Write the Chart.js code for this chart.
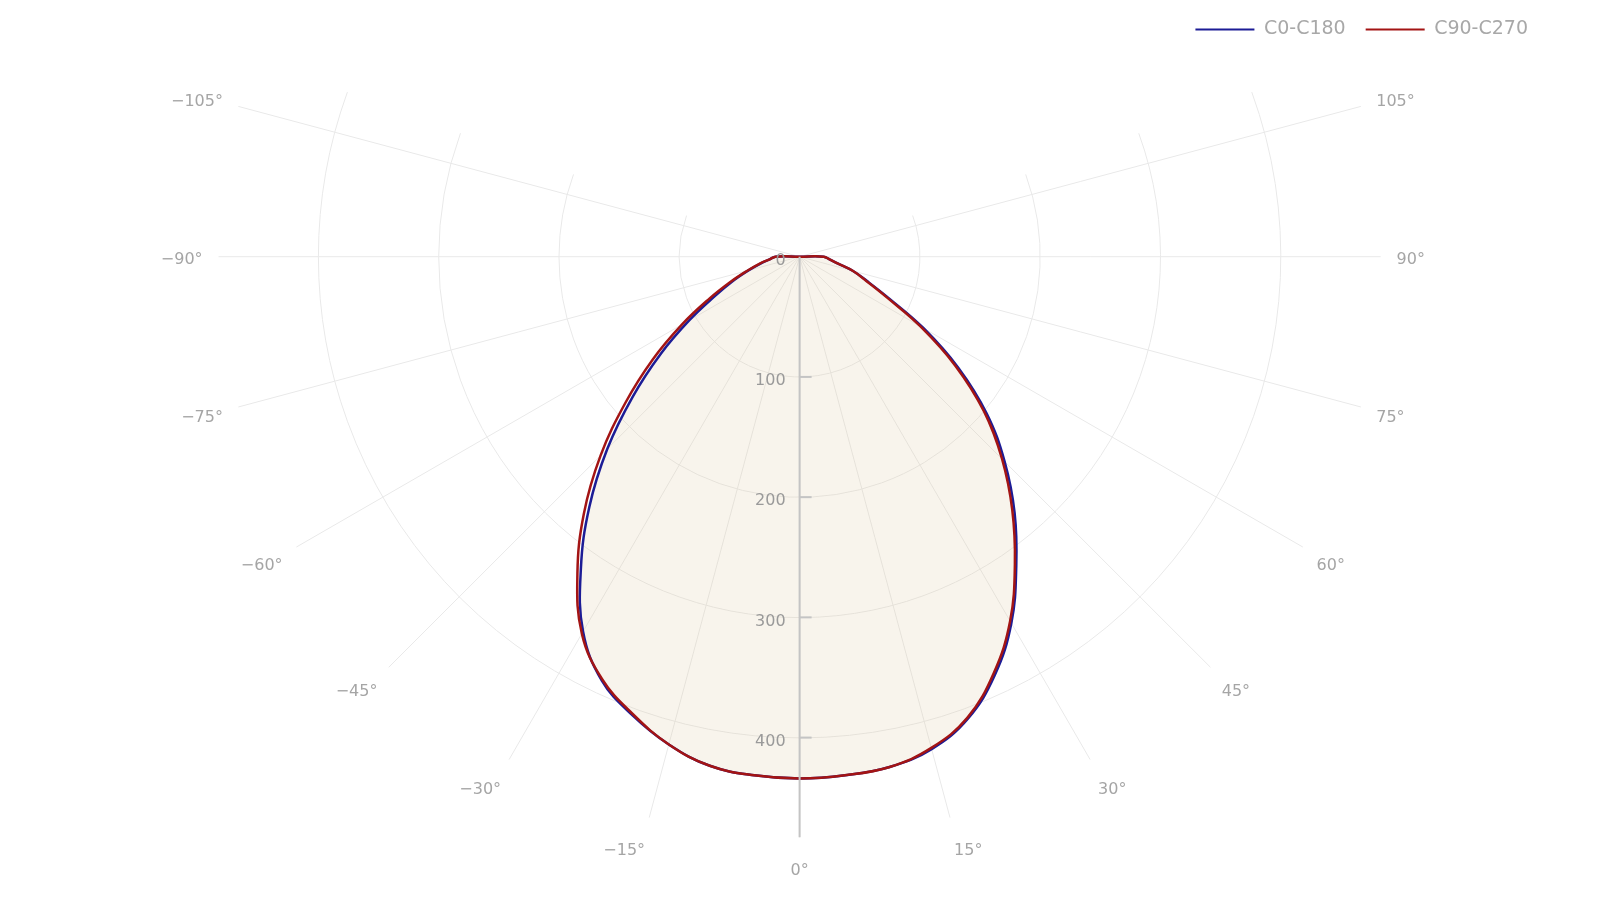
<!DOCTYPE html>
<html>
<head>
<meta charset="utf-8">
<title>Luminous intensity distribution</title>
<script src="https://cdn.jsdelivr.net/npm/chart.js@4.4.1/dist/chart.umd.min.js"></script>
<style>
  html, body { margin: 0; padding: 0; background: #fff; }
  #wrap { width: 1600px; height: 900px; }
</style>
</head>
<body>
<div id="wrap"><canvas id="polarChart" width="1600" height="900"></canvas></div>
<script>
// gamma angles in degrees, 0 = straight down, negative to the left
const angles = [-180, -90, -85, -80, -75, -70, -65, -60, -55, -50, -45, -40, -35, -30, -25, -20, -15, -10, -5,
                0, 5, 10, 15, 20, 25, 30, 35, 40, 45, 50, 55, 60, 65, 70, 75, 80, 85, 90, 180];

// intensity values (cd/klm)
const c0c180 = [0, 20, 25, 33, 44, 59, 78, 106, 141, 181, 226, 272, 317, 360, 389, 406, 420, 430, 433,
                434, 433, 431, 424, 409, 384, 352, 314, 278, 241, 203, 161, 119, 82, 60, 46, 32, 25, 20, 0];
const c90c270 = [0, 20, 25, 34, 45, 61, 83, 113, 149, 189, 234, 279, 322, 362, 388, 405, 420, 430, 433,
                 434, 433, 431, 423, 408, 382, 350, 312, 275, 238, 200, 158, 116, 80, 59, 46, 32, 25, 20, 0];

const angleTicks = [-105, -90, -75, -60, -45, -30, -15, 0, 15, 30, 45, 60, 75, 90, 105];
const radialTicks = [0, 100, 200, 300, 400];
const radialMax = 483;
const sectorHalf = 110;

// where the pole sits on the canvas and how many pixels one unit takes
const CENTER_PX = { x: 799, y: 257 };
const PX_PER_UNIT = 1.204;
const LABEL_RADIUS_PX = 597;

const FONT = '"DejaVu Sans", sans-serif';
const rad = d => d * Math.PI / 180;

function toPoints(vals) {
    return angles.map((a, i) => ({
        x: vals[i] * Math.sin(rad(a)),
        y: -vals[i] * Math.cos(rad(a))
    }));
}

function polarPx(chart, deg, r) {
    const xs = chart.scales.x, ys = chart.scales.y;
    return {
        x: xs.getPixelForValue(r * Math.sin(rad(deg))),
        y: ys.getPixelForValue(-r * Math.cos(rad(deg)))
    };
}

const polarGrid = {
    id: 'polarGrid',
    beforeDatasetsDraw(chart) {
        const ctx = chart.ctx;
        const c = polarPx(chart, 0, 0);
        const unit = chart.scales.x.getPixelForValue(1) - c.x;

        ctx.save();
        ctx.strokeStyle = '#e9e9e9';
        ctx.lineWidth = 1;

        // spokes
        angleTicks.forEach(a => {
            const e = polarPx(chart, a, radialMax);
            ctx.beginPath();
            ctx.moveTo(c.x, c.y);
            ctx.lineTo(e.x, e.y);
            ctx.stroke();
        });

        // rings, only inside the sector
        radialTicks.filter(r => r > 0).forEach(r => {
            ctx.beginPath();
            ctx.arc(c.x, c.y, r * unit, rad(90 - sectorHalf), rad(90 + sectorHalf));
            ctx.stroke();
        });

        // angle labels: left side ends at the anchor, right side starts there
        ctx.fillStyle = '#a5a5a5';
        ctx.font = '16px ' + FONT;
        ctx.textBaseline = 'middle';
        angleTicks.forEach(a => {
            const txt = (a < 0 ? '\u2212' : '') + Math.abs(a) + '\u00b0';
            const p = polarPx(chart, a, LABEL_RADIUS_PX / unit);
            ctx.textAlign = a < 0 ? 'right' : (a > 0 ? 'left' : 'center');
            ctx.fillText(txt, p.x, p.y + 3 + 15 * Math.cos(rad(a)));
        });
        ctx.restore();
    },
    afterDatasetsDraw(chart) {
        const ctx = chart.ctx;
        const c = polarPx(chart, 0, 0);
        const e = polarPx(chart, 0, radialMax);

        ctx.save();
        ctx.strokeStyle = '#c4c4c4';
        ctx.lineWidth = 2;
        ctx.beginPath();
        ctx.moveTo(c.x, c.y);
        ctx.lineTo(e.x, e.y);
        ctx.stroke();

        ctx.fillStyle = '#9a9a9a';
        ctx.font = '16px ' + FONT;
        ctx.textAlign = 'right';
        ctx.textBaseline = 'middle';
        radialTicks.forEach(r => {
            const p = polarPx(chart, 0, r);
            if (r > 0) {
                ctx.beginPath();
                ctx.moveTo(p.x, p.y);
                ctx.lineTo(p.x + 12, p.y);
                ctx.stroke();
            }
            ctx.fillText(String(r), p.x - 14, p.y + 4);
        });
        ctx.restore();
    }
};

const chart = new Chart(document.getElementById('polarChart').getContext('2d'), {
    type: 'scatter',
    data: {
        datasets: [
            {
                label: 'C0-C180',
                data: toPoints(c0c180),
                showLine: true,
                borderColor: '#1c1c96',
                backgroundColor: 'rgba(222, 200, 160, 0.2)',
                borderWidth: 2.5,
                pointRadius: 0,
                tension: 0.4,
                fill: 'shape',
                order: 1,
                clip: false
            },
            {
                label: 'C90-C270',
                data: toPoints(c90c270),
                showLine: true,
                borderColor: '#a31414',
                backgroundColor: 'rgba(0, 0, 0, 0)',
                borderWidth: 2.5,
                pointRadius: 0,
                tension: 0.4,
                fill: false,
                order: 0,
                clip: false
            }
        ]
    },
    options: {
        responsive: false,
        animation: false,
        layout: { padding: { right: 52 } },
        scales: {
            x: { type: 'linear', display: false, bounds: 'data', min: -660, max: 620 },
            y: { type: 'linear', display: false, bounds: 'data', min: -530, max: 210 }
        },
        plugins: {
            tooltip: { enabled: false },
            legend: {
                position: 'top',
                align: 'end',
                labels: {
                    boxWidth: 59,
                    boxHeight: 2,
                    padding: 20,
                    color: '#a8a8a8',
                    font: { family: FONT, size: 19 },
                    generateLabels: ch => ch.data.datasets.map((ds, i) => ({
                        text: ds.label,
                        fillStyle: ds.borderColor,
                        strokeStyle: ds.borderColor,
                        lineWidth: 0,
                        fontColor: '#a8a8a8',
                        hidden: !ch.isDatasetVisible(i),
                        datasetIndex: i
                    }))
                }
            }
        }
    },
    plugins: [polarGrid]
});

// pin the pole to its place once the chart area is known
function fitScales(ch) {
    const a = ch.chartArea;
    const xo = ch.options.scales.x, yo = ch.options.scales.y;
    xo.min = (a.left - CENTER_PX.x) / PX_PER_UNIT;
    xo.max = (a.right - CENTER_PX.x) / PX_PER_UNIT;
    yo.max = (CENTER_PX.y - a.top) / PX_PER_UNIT;
    yo.min = (CENTER_PX.y - a.bottom) / PX_PER_UNIT;
    ch.update();
}
fitScales(chart);
</script>
</body>
</html>
